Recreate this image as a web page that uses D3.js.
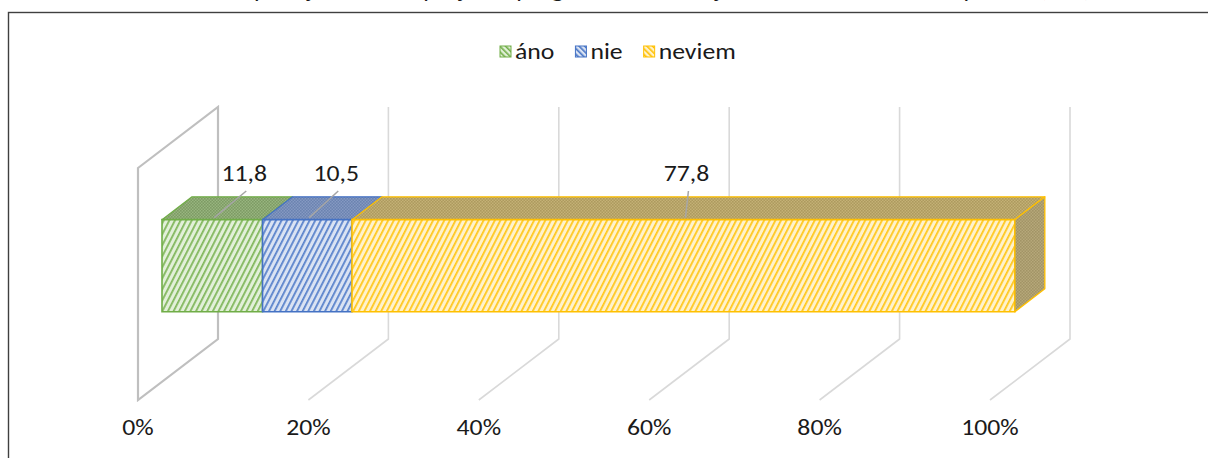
<!DOCTYPE html>
<html>
<head>
<meta charset="utf-8">
<script src="https://cdn.jsdelivr.net/npm/d3@7"></script>
<style>
  body { margin: 0; background: #fff; overflow: hidden; }
  text { font-family: Carlito, Calibri, Lato, sans-serif; fill: #1a1a1a; }
</style>
</head>
<body>
<svg id="chart"></svg>
<script>
// data
var categories = ["áno", "nie", "neviem"];
var values = [11.8, 10.5, 77.8];
var valueLabels = ["11,8", "10,5", "77,8"];
var tickValues = [0, 20, 40, 60, 80, 100];
var tickLabels = ["0%", "20%", "40%", "60%", "80%", "100%"];
var title = "Graf 11 Zúčastnili ste sa podujatia alebo projektu programu na rozvoj zamestnancov v rámci praxe? (v %)";

// styles
var lineColors = ["#70ad47", "#4472c4", "#ffc000"];
var lightColors = ["#e2f0d9", "#dae3f3", "#fff2cc"];
var topColors = [["#7d9b64", "#98b57f"], ["#6b83b0", "#8599c2"], ["#ad9a5e", "#c4b176"]];
var sideColors = ["#a29466", "#b6a87a"];
var labelShift = [32, 29, 3];
var stretch = 1.17;   // text in the picture is a bit wider than the fallback font

function base() {
    var w = 1208;
    var h = 458;
    var depthX = 80, depthY = 61;   // floor depth of the 3d box
    var d1 = 0.3, d2 = 0.675;       // bar front / back depth

    var svg = d3.select("#chart").attr("width", w).attr("height", h);
    var defs = svg.append("defs");

    // place a text with horizontal stretch
    function put(t, x, y) {
        return t.attr("transform", "translate(" + x + "," + y + ") scale(" + stretch + ",1)");
    }

    // hatch patterns for front faces, legend swatches, top faces
    lineColors.forEach(function(c, i) {
        var p = defs.append("pattern")
            .attr("id", "hatch" + i)
            .attr("patternUnits", "userSpaceOnUse")
            .attr("width", 5).attr("height", 5)
            .attr("patternTransform", "rotate(27)");
        p.append("rect").attr("width", 5).attr("height", 5).attr("fill", lightColors[i]);
        p.append("rect").attr("width", 1.8).attr("height", 5).attr("fill", c).attr("opacity", 0.85);

        var l = defs.append("pattern")
            .attr("id", "key" + i)
            .attr("patternUnits", "userSpaceOnUse")
            .attr("width", 4).attr("height", 4)
            .attr("patternTransform", "rotate(-45)");
        l.append("rect").attr("width", 4).attr("height", 4).attr("fill", lightColors[i]);
        l.append("rect").attr("width", 1.6).attr("height", 4).attr("fill", c);

        var t = defs.append("pattern")
            .attr("id", "dots" + i)
            .attr("patternUnits", "userSpaceOnUse")
            .attr("width", 3).attr("height", 3);
        t.append("rect").attr("width", 3).attr("height", 3).attr("fill", topColors[i][1]);
        t.append("rect").attr("width", 1.6).attr("height", 1.6).attr("fill", topColors[i][0]);
        t.append("rect").attr("x", 1.5).attr("y", 1.5).attr("width", 1.5).attr("height", 1.5).attr("fill", topColors[i][0]);
    });
    var s = defs.append("pattern")
        .attr("id", "side")
        .attr("patternUnits", "userSpaceOnUse")
        .attr("width", 3).attr("height", 3);
    s.append("rect").attr("width", 3).attr("height", 3).attr("fill", sideColors[1]);
    s.append("rect").attr("width", 1.6).attr("height", 1.6).attr("fill", sideColors[0]);
    s.append("rect").attr("x", 1.5).attr("y", 1.5).attr("width", 1.5).attr("height", 1.5).attr("fill", sideColors[0]);

    // cut-off title and frame
    put(svg.append("text")
        .style("font-style", "italic")
        .style("font-size", "22px")
        .text(title), 2, -3);

    svg.append("rect")
        .attr("x", 8.5).attr("y", 12.5)
        .attr("width", 1400).attr("height", 600)
        .attr("fill", "none")
        .attr("stroke", "#404040")
        .attr("stroke-width", 1.4);

    // scales
    var xScale = d3.scaleLinear().domain([0, 100]).range([138, 990]);
    var yScale = d3.scaleBand().domain(["q"]).range([168, 400]).paddingOuter(0.76);

    function px(v, d) { return xScale(v) + depthX * d; }
    function py(yv, d) { return yv - depthY * d; }

    var yTop = yScale.range()[0], yBot = yScale.range()[1];

    // walls and grid
    var grid = svg.append("g");
    tickValues.forEach(function(t, i) {
        if (i === 0) {
            grid.append("path")
                .attr("d", d3.line()([
                    [px(t, 0), py(yTop, 0)], [px(t, 1), py(yTop, 1)],
                    [px(t, 1), py(yBot, 1)], [px(t, 0), py(yBot, 0)]
                ]) + "Z")
                .attr("fill", "none")
                .attr("stroke", "#bfbfbf")
                .attr("stroke-width", 2.2);
        } else {
            grid.append("path")
                .attr("d", d3.line()([
                    [px(t, 1), py(yTop, 1)], [px(t, 1), py(yBot, 1)], [px(t, 0), py(yBot, 0)]
                ]))
                .attr("fill", "none")
                .attr("stroke", "#d9d9d9")
                .attr("stroke-width", 1.6);
        }
    });

    // tick labels
    tickValues.forEach(function(t, i) {
        put(svg.append("text")
            .attr("text-anchor", "middle")
            .style("font-size", "22px")
            .text(tickLabels[i]), xScale(t), 435);
    });

    // stacked bar
    var row = {};
    categories.forEach(function(c, i) { row[c] = values[i]; });
    var series = d3.stack().keys(categories)([row]);

    var y0 = yScale("q"), y1 = yScale("q") + yScale.bandwidth();
    var bars = svg.append("g");

    series.forEach(function(sr, i) {
        var a = sr[0][0], b = sr[0][1];
        // top face
        bars.append("path")
            .attr("d", d3.line()([
                [px(a, d1), py(y0, d1)], [px(b, d1), py(y0, d1)],
                [px(b, d2), py(y0, d2)], [px(a, d2), py(y0, d2)]
            ]) + "Z")
            .attr("fill", "url(#dots" + i + ")")
            .attr("stroke", lineColors[i])
            .attr("stroke-width", 1.3)
            .attr("stroke-linejoin", "round");
        // front face
        bars.append("path")
            .attr("d", d3.line()([
                [px(a, d1), py(y0, d1)], [px(b, d1), py(y0, d1)],
                [px(b, d1), py(y1, d1)], [px(a, d1), py(y1, d1)]
            ]) + "Z")
            .attr("fill", "url(#hatch" + i + ")")
            .attr("stroke", lineColors[i])
            .attr("stroke-width", 1.6);
        // right side of the last segment
        if (i === series.length - 1) {
            bars.append("path")
                .attr("d", d3.line()([
                    [px(b, d1), py(y0, d1)], [px(b, d2), py(y0, d2)],
                    [px(b, d2), py(y1, d2)], [px(b, d1), py(y1, d1)]
                ]) + "Z")
                .attr("fill", "url(#side)")
                .attr("stroke", lineColors[i])
                .attr("stroke-width", 1.3)
                .attr("stroke-linejoin", "round");
        }
    });

    // data labels with leader lines
    series.forEach(function(sr, i) {
        var mid = (sr[0][0] + sr[0][1]) / 2;
        var fx = px(mid, d1);
        var lx = fx + labelShift[i];
        svg.append("line")
            .attr("x1", lx + 2).attr("y1", 191)
            .attr("x2", fx + 2).attr("y2", py(y0, d1) - 2)
            .attr("stroke", "#a6a6a6")
            .attr("stroke-width", 1.5);
        put(svg.append("text")
            .attr("text-anchor", "middle")
            .style("font-size", "22px")
            .text(valueLabels[i]), lx, 181);
    });

    // legend
    var legend = svg.append("g");
    var lx = 500;
    categories.forEach(function(c, i) {
        legend.append("rect")
            .attr("x", lx).attr("y", 46)
            .attr("width", 11).attr("height", 11)
            .attr("fill", "url(#key" + i + ")")
            .attr("stroke", lineColors[i])
            .attr("stroke-width", 1);
        var t = put(legend.append("text")
            .style("font-size", "22px")
            .text(c), lx + 15, 59);
        lx += 15 + t.node().getComputedTextLength() * stretch + 21;
    });
}

window.onload = base;
</script>
</body>
</html>
